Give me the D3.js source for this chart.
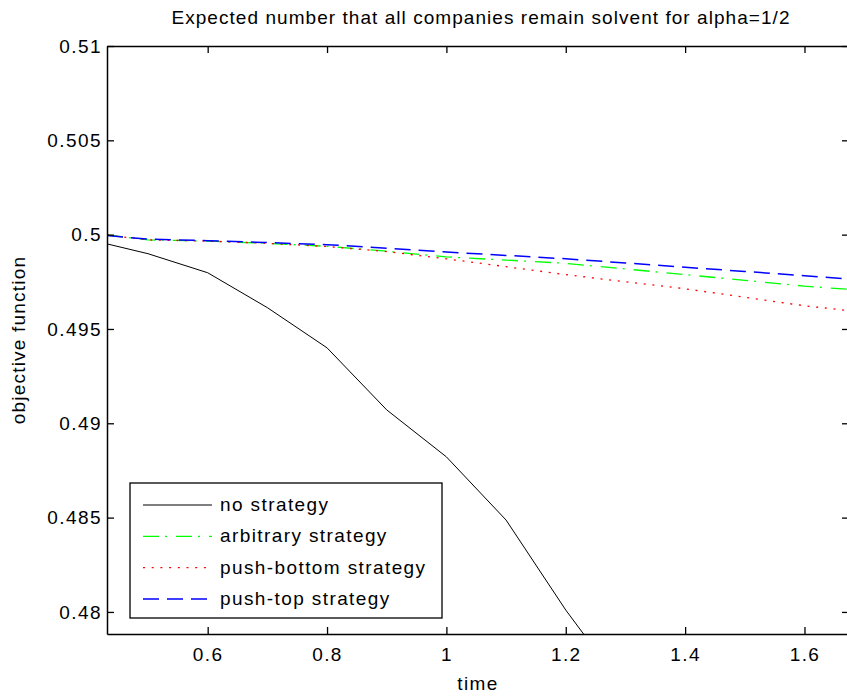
<!DOCTYPE html>
<html lang="en">
<head>
  <meta charset="UTF-8">
  <title>Expected number that all companies remain solvent</title>
  <script src="https://d3js.org/d3.v7.min.js"></script>
  <style>
    body { margin: 0; background: #fff; }
    text {
      font-family: "Liberation Sans", Arial, sans-serif;
      fill: #000;
    }
  </style>
</head>
<body>
  <script>
    // data
    const time = [0.4313, 0.5, 0.6, 0.7, 0.8, 0.9, 1.0, 1.1, 1.2, 1.3, 1.4, 1.5, 1.6, 1.6746];
    const noStrategy = [0.49951, 0.49899, 0.49798, 0.49613, 0.49400, 0.49071, 0.48822, 0.48487, 0.48010, 0.47585, null, null, null, null];
    const arbitrary  = [0.49998, 0.49972, 0.49966, 0.49954, 0.49938, 0.49912, 0.49882, 0.49865, 0.49848, 0.49818, 0.49788, 0.49758, 0.49727, 0.49710];
    const pushBottom = [0.49998, 0.49972, 0.49966, 0.49954, 0.49937, 0.49910, 0.49872, 0.49830, 0.49788, 0.49750, 0.49713, 0.49668, 0.49623, 0.49597];
    const pushTop    = [0.49995, 0.49976, 0.49968, 0.49958, 0.49947, 0.49928, 0.49908, 0.49890, 0.49872, 0.49850, 0.49827, 0.49805, 0.49782, 0.49765];
    const xTicks = [0.6, 0.8, 1, 1.2, 1.4, 1.6];
    const yTicks = [0.48, 0.485, 0.49, 0.495, 0.5, 0.505, 0.51];

    const series = [
      { name: "no strategy", values: noStrategy, color: "#000000", width: 1, dash: null },
      { name: "arbitrary strategy", values: arbitrary, color: "#00ff00", width: 1.3, dash: "16,6,2,9" },
      { name: "push-bottom strategy", values: pushBottom, color: "#ff0000", width: 1.3, dash: "2,6.7" },
      { name: "push-top strategy", values: pushTop, color: "#0000ff", width: 1.5, dash: "16,8" }
    ];

    const width = 847, height = 696;
    const m = { left: 107, right: 849, top: 46, bottom: 634 };

    const x = d3.scaleLinear().domain([0.4313, 1.6746]).range([m.left, m.right]);
    const y = d3.scaleLinear().domain([0.47883, 0.51]).range([m.bottom, m.top]);

    const svg = d3.select("body").append("svg")
      .attr("width", width)
      .attr("height", height);

    svg.append("defs").append("clipPath").attr("id", "plot")
      .append("rect")
      .attr("x", m.left).attr("y", m.top)
      .attr("width", m.right - m.left).attr("height", m.bottom - m.top);

    // curves
    const line = d3.line()
      .defined(d => d.v != null)
      .x(d => x(d.t))
      .y(d => y(d.v));

    svg.append("g").attr("clip-path", "url(#plot)")
      .selectAll("path")
      .data(series)
      .join("path")
      .attr("d", s => line(time.map((t, i) => ({ t: t, v: s.values[i] }))))
      .attr("fill", "none")
      .attr("stroke", s => s.color)
      .attr("stroke-width", s => s.width)
      .attr("stroke-dasharray", s => s.dash);

    // axes (MATLAB style box with inward ticks)
    const tickLen = 7;
    const fontSize = 19;
    const spacing = "1.4px";

    const xAxisB = d3.axisBottom(x).tickValues(xTicks).tickSizeInner(-tickLen).tickSizeOuter(0)
      .tickPadding(14).tickFormat(d3.format("~g"));
    const gx = svg.append("g").attr("transform", `translate(0,${m.bottom})`).call(xAxisB);
    const xAxisT = d3.axisTop(x).tickValues(xTicks).tickSizeInner(-tickLen).tickSizeOuter(0).tickFormat("");
    const gxt = svg.append("g").attr("transform", `translate(0,${m.top})`).call(xAxisT);

    const yAxisL = d3.axisLeft(y).tickValues(yTicks).tickSizeInner(-tickLen).tickSizeOuter(0)
      .tickPadding(7).tickFormat(d3.format("~g"));
    const gy = svg.append("g").attr("transform", `translate(${m.left},0)`).call(yAxisL);
    const yAxisR = d3.axisRight(y).tickValues(yTicks).tickSizeInner(-tickLen).tickSizeOuter(0).tickFormat("");
    const gyr = svg.append("g").attr("transform", `translate(${m.right},0)`).call(yAxisR);

    [gx, gxt, gy, gyr].forEach(g => {
      g.select(".domain").attr("stroke", "#000").attr("stroke-width", 1.5);
      g.selectAll(".tick line").attr("stroke", "#000").attr("stroke-width", 1.3);
      g.selectAll("text")
        .attr("font-family", "'Liberation Sans', Arial, sans-serif")
        .attr("font-size", fontSize)
        .style("letter-spacing", spacing)
        .attr("fill", "#000");
    });
    gy.selectAll("text").attr("dx", "0.1em");

    // title and axis labels
    svg.append("text")
      .attr("x", 481)
      .attr("y", 24)
      .attr("text-anchor", "middle")
      .attr("font-size", 19)
      .style("letter-spacing", "1.05px")
      .text("Expected number that all companies remain solvent for alpha=1/2");

    svg.append("text")
      .attr("x", (m.left + m.right) / 2)
      .attr("y", 690)
      .attr("text-anchor", "middle")
      .attr("font-size", fontSize)
      .style("letter-spacing", spacing)
      .text("time");

    svg.append("text")
      .attr("transform", `translate(25,${(m.top + m.bottom) / 2}) rotate(-90)`)
      .attr("text-anchor", "middle")
      .attr("font-size", fontSize)
      .style("letter-spacing", "1.2px")
      .text("objective function");

    // legend
    const legend = svg.append("g");
    legend.append("rect")
      .attr("x", 130).attr("y", 483)
      .attr("width", 312).attr("height", 135)
      .attr("fill", "#fff")
      .attr("stroke", "#000")
      .attr("stroke-width", 1.3);

    const rowY = d3.scalePoint().domain(series.map(s => s.name)).range([505, 599]);

    const rows = legend.selectAll("g.row")
      .data(series)
      .join("g")
      .attr("class", "row")
      .attr("transform", s => `translate(0,${rowY(s.name)})`);

    rows.append("line")
      .attr("x1", 143).attr("x2", 212)
      .attr("stroke", s => s.color)
      .attr("stroke-width", s => s.width)
      .attr("stroke-dasharray", s => s.dash);

    rows.append("text")
      .attr("x", 220)
      .attr("y", 6)
      .attr("font-size", fontSize)
      .style("letter-spacing", spacing)
      .text(s => s.name);
  </script>
</body>
</html>
